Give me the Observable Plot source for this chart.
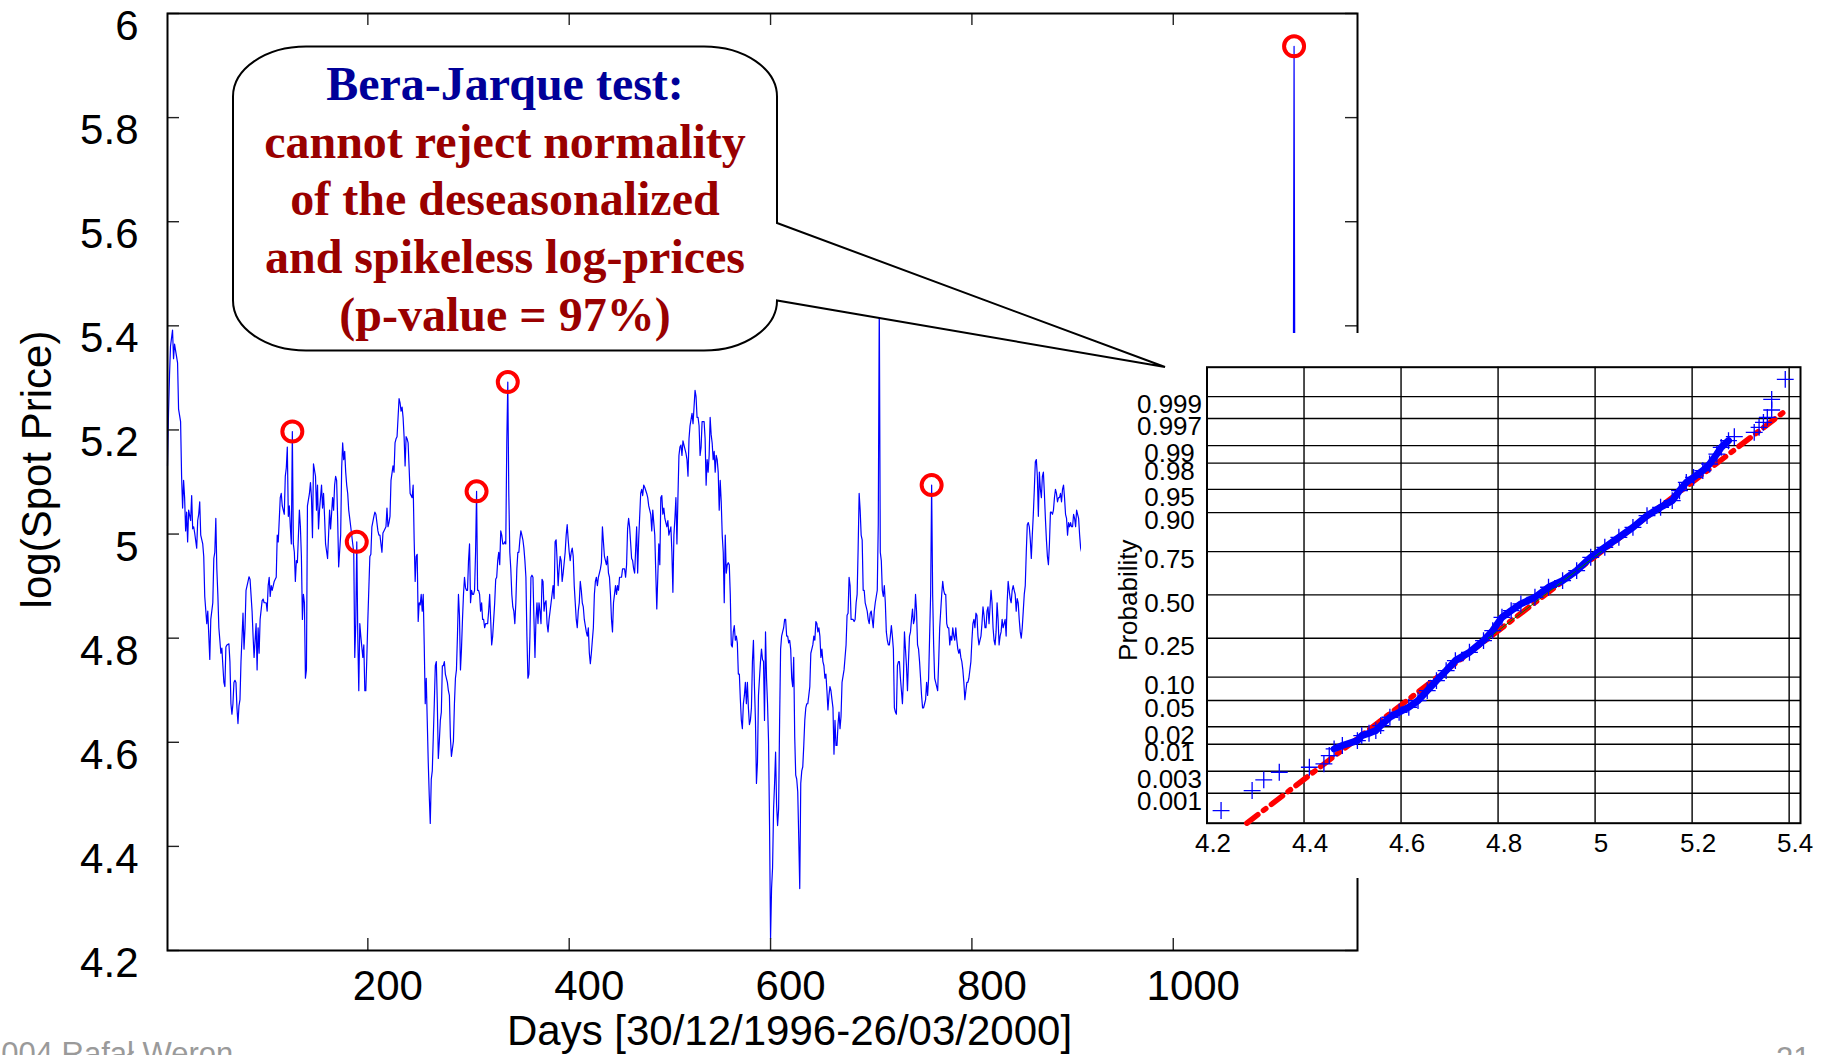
<!DOCTYPE html>
<html><head><meta charset="utf-8">
<script src="https://cdn.jsdelivr.net/npm/d3@7"></script>
<script src="https://cdn.jsdelivr.net/npm/@observablehq/plot@0.6"></script>
<style>
html,body{margin:0;padding:0;background:#fff;overflow:hidden;}
#page{position:relative;width:1832px;height:1055px;overflow:hidden;background:#fff;}
#page > *{position:absolute;}
</style></head><body><div id="page"></div>
<script>
// ---------- main series: day index and log(spot price) ----------
const days = [1,2,3,4,6,7,8,9,11,12,14,15,16,17,18,19,20,21,22,24,25,26,27,28,30,31,32,33,34,36,37,38,40,41,43,44,46,47,48,49,50,51,52,53,54,55,56,57,58,59,60,62,63,64,65,66,67,68,69,70,71,72,73,74,76,77,78,79,81,82,83,85,86,87,89,90,91,92,93,95,96,97,99,100,101,102,103,104,105,107,108,109,110,111,113,114,115,117,118,119,120,121,122,123,124,125,126,127,128,129,130,132,133,134,135,136,137,138,139,140,142,143,144,145,146,148,149,150,151,152,154,155,156,157,158,160,161,162,163,165,166,167,168,169,170,171,173,174,175,176,177,178,179,180,181,182,183,185,186,187,188,189,190,191,192,193,195,196,197,198,199,200,202,203,204,206,207,208,210,211,212,214,215,216,218,219,220,221,222,223,225,226,227,228,229,231,232,
233,234,235,236,237,238,239,240,241,242,244,245,246,247,248,249,250,251,252,253,254,255,256,257,258,259,260,261,262,263,264,265,266,267,268,269,270,271,272,273,274,275,276,277,279,280,281,282,283,285,286,287,288,289,290,291,292,293,294,295,296,297,298,299,300,301,302,303,304,305,306,307,308,309,310,311,312,313,314,315,316,317,318,319,320,321,322,323,324,325,326,327,328,329,330,331,332,333,334,335,336,337,338,339,340,341,342,343,344,345,346,347,348,349,350,351,352,353,354,355,356,357,358,359,360,361,362,363,364,365,366,367,368,369,370,371,372,373,374,375,376,377,378,379,380,381,382,383,384,385,386,387,388,389,390,391,392,393,394,395,396,397,398,399,400,401,402,403,404,405,406,407,408,409,410,411,412,413,414,415,416,417,418,419,420,421,422,423,424,425,426,427,428,429,430,431,432,433,434,435,436,437,438,439,440,441,442,443,444,445,446,447,448,449,450,451,452,453,454,455,456,457,458,459,460,462,
463,464,465,467,468,469,471,472,473,474,475,477,478,479,481,482,483,485,486,487,489,490,491,492,493,494,495,497,498,499,501,502,503,504,505,506,507,508,509,510,511,512,513,514,516,517,518,519,520,522,523,524,525,526,527,528,529,530,531,532,534,535,536,537,538,539,540,541,542,543,544,545,546,547,548,549,550,551,552,553,554,555,556,557,558,559,560,561,562,563,564,565,566,567,568,569,570,571,572,573,574,575,576,577,578,579,580,581,582,583,584,585,586,587,588,589,590,591,592,593,594,595,596,597,598,599,600,601,602,603,604,605,606,607,608,609,610,611,612,613,614,615,616,617,618,619,620,621,622,623,624,625,626,627,628,629,630,631,632,633,634,635,636,637,638,639,640,641,642,643,644,645,646,647,648,649,650,651,652,653,654,655,656,657,658,659,660,661,662,663,664,665,666,667,668,669,670,671,672,673,674,675,676,677,678,679,680,681,682,683,684,685,686,687,688,689,
690,691,692,693,694,695,696,697,698,699,700,701,702,703,704,705,706,707,708,709,710,711,712,713,714,715,716,717,718,719,720,721,722,723,724,725,726,727,728,729,730,731,732,733,734,735,736,737,738,739,740,741,742,743,744,745,746,747,748,749,750,751,752,753,754,755,756,757,758,759,760,761,762,763,764,765,766,767,768,769,770,771,772,773,774,775,776,777,778,779,780,781,782,783,784,785,786,787,788,789,790,791,792,793,794,795,796,797,798,799,800,801,802,803,804,805,806,807,808,809,810,811,812,813,814,815,816,817,818,819,820,821,822,823,824,825,826,827,828,829,830,831,832,833,834,835,836,837,838,839,840,841,842,843,844,845,846,847,848,849,850,851,852,853,854,855,856,857,858,859,860,861,862,863,864,865,866,867,868,869,870,871,872,873,874,875,876,877,878,879,880,881,882,883,884,885,886,887,888,889,890,891,892,893,894,895,896,897,898,899,900,901,902,903,904,905,906,907,908,909,910,
1119,1120,1121];
const logPrice = [5.131,5.232,5.305,5.361,5.392,5.337,5.365,5.353,5.329,5.240,5.216,5.111,5.050,5.103,5.070,5.006,5.042,4.985,5.046,5.026,5.074,5.010,5.014,5.002,4.973,5.026,5.038,5.062,4.998,4.981,4.957,4.880,4.828,4.852,4.759,4.836,4.868,4.953,4.965,5.030,4.933,4.884,4.820,4.796,4.771,4.781,4.747,4.715,4.707,4.783,4.787,4.789,4.755,4.674,4.654,4.674,4.715,4.719,4.715,4.666,4.636,4.670,4.682,4.755,4.848,4.779,4.820,4.892,4.909,4.918,4.913,4.852,4.804,4.763,4.828,4.739,4.820,4.771,4.836,4.872,4.875,4.868,4.868,4.852,4.901,4.917,4.880,4.901,4.892,4.909,4.913,4.917,4.998,4.985,5.070,5.078,5.054,5.038,5.111,5.127,5.167,5.034,5.054,5.014,4.981,5.197,4.981,4.965,4.909,4.949,4.945,5.046,5.014,4.957,4.836,4.884,4.868,4.723,4.739,5.054,5.078,5.099,5.070,4.993,5.135,5.111,5.046,5.094,5.010,5.046,5.094,5.050,5.078,5.034,4.981,4.953,4.998,5.046,5.010,5.070,5.046,5.094,5.111,5.103,5.030,4.937,4.998,5.127,5.175,5.143,5.159,5.119,5.094,5.078,5.046,5.030,5.014,4.981,4.965,4.763,4.828,4.985,4.804,4.699,4.828,4.804,4.763,4.787,4.699,4.699,4.763,4.836,4.957,4.961,5.014,5.034,5.042,5.038,5.006,4.998,4.998,4.965,5.002,5.006,5.014,5.050,5.014,5.022,5.034,5.103,5.131,5.119,5.175,5.183,5.187,5.260,5.252,
5.236,5.244,5.224,5.187,5.131,5.187,5.183,5.175,5.127,5.078,5.070,5.094,4.989,4.909,4.957,4.961,4.832,4.868,4.864,4.884,4.852,4.884,4.787,4.674,4.723,4.642,4.561,4.497,4.444,4.529,4.545,4.610,4.674,4.747,4.755,4.674,4.569,4.602,4.642,4.658,4.747,4.747,4.755,4.731,4.715,4.699,4.690,4.610,4.573,4.602,4.674,4.723,4.739,4.804,4.884,4.844,4.739,4.779,4.836,4.884,4.917,4.897,4.892,4.892,4.949,4.981,4.868,4.892,4.884,4.884,4.892,4.965,5.082,4.892,4.892,4.884,4.852,4.868,4.836,4.836,4.820,4.828,4.828,4.828,4.852,4.884,4.836,4.787,4.804,4.836,4.868,4.913,4.917,4.949,4.965,4.941,5.006,4.998,4.981,4.981,4.985,4.981,5.175,5.292,5.078,4.965,4.933,4.884,4.860,4.852,4.828,4.868,4.933,4.965,4.965,4.989,5.006,4.998,4.989,4.973,4.949,4.917,4.804,4.723,4.731,4.804,4.917,4.921,4.917,4.836,4.763,4.836,4.868,4.828,4.868,4.852,4.828,4.913,4.909,4.852,4.868,4.872,4.828,4.812,4.836,4.852,4.868,4.884,4.901,4.876,4.985,4.989,4.949,4.901,4.933,4.957,4.949,4.909,4.925,4.945,4.965,4.998,5.018,4.989,4.965,4.949,4.965,4.973,4.957,4.901,4.868,4.836,4.820,4.852,4.868,4.909,4.892,4.868,4.860,4.836,4.824,4.812,4.804,4.820,4.771,4.751,4.771,4.796,4.820,4.884,4.909,4.917,4.901,4.917,4.925,4.933,4.945,5.014,4.985,4.957,4.949,4.941,4.957,4.925,4.917,4.884,4.836,4.812,4.868,4.884,4.901,4.884,4.901,4.892,4.917,4.917,4.917,4.933,4.933,4.933,4.917,4.941,5.010,5.030,5.014,4.953,
4.949,4.933,4.925,5.014,4.925,4.989,5.078,5.086,5.074,5.094,5.090,5.078,5.070,5.054,5.038,5.006,5.046,4.998,4.925,4.856,4.981,4.941,5.070,5.074,5.038,5.050,5.030,5.014,5.026,4.998,5.014,4.965,4.888,4.998,5.030,5.070,4.981,5.070,5.151,5.167,5.171,5.151,5.179,5.171,5.155,5.143,5.111,5.183,5.208,5.232,5.212,5.244,5.276,5.264,5.224,5.224,5.208,5.151,5.167,5.216,5.216,5.183,5.094,5.143,5.119,5.151,5.224,5.191,5.175,5.143,5.159,5.119,5.151,5.143,5.119,5.046,5.103,5.062,4.998,4.965,4.868,4.998,4.925,4.941,4.945,4.941,4.884,4.787,4.783,4.812,4.824,4.796,4.804,4.791,4.731,4.731,4.682,4.642,4.626,4.674,4.690,4.715,4.674,4.715,4.666,4.634,4.642,4.666,4.755,4.796,4.707,4.642,4.521,4.561,4.690,4.723,4.755,4.779,4.759,4.755,4.642,4.812,4.723,4.674,4.602,4.440,4.222,4.319,4.359,4.472,4.521,4.581,4.480,4.440,4.472,4.642,4.779,4.804,4.812,4.820,4.836,4.836,4.804,4.804,4.791,4.796,4.779,4.723,4.707,4.763,4.610,4.537,4.529,4.505,4.416,4.319,4.521,4.545,4.553,4.594,4.642,4.666,4.674,4.674,4.690,4.707,4.771,4.779,4.787,4.804,4.796,4.832,4.828,4.812,4.820,4.804,4.763,4.779,4.755,4.747,4.723,4.731,4.699,4.662,4.690,4.707,4.699,4.682,4.666,4.577,4.642,4.594,4.594,4.634,4.658,4.626,4.650,4.715,4.727,4.739,4.763,4.787,4.844,4.848,4.917,4.901,4.836,4.836,4.836,4.832,4.836,4.868,4.884,4.973,5.078,5.046,
4.998,4.989,4.892,4.892,4.868,4.860,4.852,4.836,4.828,4.848,4.852,4.836,4.820,4.852,4.868,4.880,4.892,5.020,5.450,4.965,4.949,4.892,4.880,4.901,4.868,4.812,4.796,4.787,4.787,4.804,4.824,4.804,4.779,4.666,4.658,4.654,4.747,4.755,4.755,4.723,4.699,4.674,4.723,4.812,4.779,4.747,4.699,4.755,4.804,4.812,4.836,4.856,4.828,4.836,4.884,4.852,4.787,4.779,4.755,4.723,4.690,4.666,4.666,4.674,4.682,4.715,4.690,4.723,4.804,4.884,5.094,4.884,4.787,4.723,4.715,4.707,4.699,4.755,4.820,4.852,4.884,4.909,4.892,4.884,4.884,4.828,4.820,4.820,4.787,4.804,4.796,4.820,4.804,4.796,4.820,4.796,4.779,4.771,4.779,4.763,4.755,4.739,4.715,4.682,4.699,4.715,4.715,4.723,4.739,4.755,4.796,4.828,4.836,4.820,4.848,4.844,4.804,4.787,4.796,4.804,4.828,4.860,4.844,4.820,4.820,4.852,4.860,4.828,4.860,4.892,4.868,4.820,4.796,4.787,4.812,4.868,4.836,4.787,4.804,4.812,4.836,4.820,4.828,4.836,4.804,4.868,4.909,4.892,4.876,4.868,4.892,4.901,4.892,4.884,4.852,4.876,4.868,4.836,4.812,4.800,4.820,4.852,4.884,4.901,4.965,5.018,5.022,5.014,4.989,4.953,4.998,5.038,5.086,5.139,5.143,5.111,5.034,5.119,5.086,5.070,5.111,5.119,5.078,5.030,4.989,4.957,4.941,4.981,5.042,5.042,5.038,5.046,5.070,5.086,5.078,5.062,5.070,5.070,5.078,5.062,5.086,5.094,5.070,5.038,5.030,4.998,5.022,5.014,5.022,5.014,5.014,5.038,5.030,5.014,5.046,5.038,5.030,4.998,4.973,4.965,4.949,
5.000,5.937,5.000];

// circled spikes
const spikeDays = [125, 189, 308, 339, 760, 1120];
const spikeValues = [5.197, 4.985, 5.082, 5.292, 5.094, 5.937];

const xTicks = [200, 400, 600, 800, 1000];
const yTicks = [4.2, 4.4, 4.6, 4.8, 5, 5.2, 5.4, 5.6, 5.8, 6];
const xTitle = "Days [30/12/1996-26/03/2000]";
const yTitle = "log(Spot Price)";

// ---------- inset: normal probability plot ----------
const qqValue = [4.229,4.293,4.317,4.349,4.411,4.441,4.452,4.462,4.479,4.510,4.519,4.534,4.548,4.558,4.577,4.596,4.616,4.635,4.654,4.673,4.693,4.712,4.741,4.770,4.789,4.808,4.827,4.847,4.876,4.904,4.933,4.962,4.991,5.020,5.049,5.078,5.107,5.135,5.159,5.174,5.188,5.203,5.222,5.236,5.251,5.260,5.275,5.287,5.328,5.338,5.347,5.355,5.364,5.364,5.392];
const qqScore = [-3.360,-3.048,-2.882,-2.763,-2.685,-2.633,-2.503,-2.399,-2.347,-2.270,-2.192,-2.155,-2.114,-2.036,-1.906,-1.828,-1.750,-1.647,-1.491,-1.335,-1.179,-1.024,-0.894,-0.712,-0.556,-0.349,-0.245,-0.141,-0.037,0.119,0.223,0.378,0.586,0.742,0.898,1.053,1.235,1.365,1.469,1.624,1.754,1.832,1.936,2.040,2.195,2.299,2.403,2.466,2.533,2.611,2.689,2.767,2.881,3.047,3.358];
const fitValue = [4.282, 5.390];
const fitScore = [-3.557, 2.855];
const midFitValue = [4.780, 5.013];
const midFitScore = [-0.6745, 0.6745];
const probTicks = [0.001,0.003,0.01,0.02,0.05,0.10,0.25,0.50,0.75,0.90,0.95,0.98,0.99,0.997,0.999];
const probLabels = ["0.001","0.003","0.01","0.02","0.05","0.10","0.25","0.50","0.75","0.90","0.95","0.98","0.99","0.997","0.999"];
const insetXTicks = [4.2, 4.4, 4.6, 4.8, 5, 5.2, 5.4];
const insetYTitle = "Probability";

// ---------- callout ----------
const bubbleTitle = "Bera-Jarque test:";
const bubbleLines = ["cannot reject normality", "of the deseasonalized", "and spikeless log-prices", "(p-value = 97%)"];
const footerLeft = "2004 Rafał Weron";
const footerRight = "21";

// inverse normal CDF (Acklam)
function probit(p) {
  const a=[-3.969683028665376e+01,2.209460984245205e+02,-2.759285104469687e+02,1.383577518672690e+02,-3.066479806614716e+01,2.506628277459239e+00];
  const b=[-5.447609879822406e+01,1.615858368580409e+02,-1.556989798598866e+02,6.680131188771972e+01,-1.328068155288572e+01];
  const c=[-7.784894002430293e-03,-3.223964580411365e-01,-2.400758277161838e+00,-2.549732539343734e+00,4.374664141464968e+00,2.938163982698783e+00];
  const d=[7.784695709041462e-03,3.224671290700398e-01,2.445134137142996e+00,3.754408661907416e+00];
  const pl=0.02425, ph=1-pl;
  if (p < pl) { const q=Math.sqrt(-2*Math.log(p)); return (((((c[0]*q+c[1])*q+c[2])*q+c[3])*q+c[4])*q+c[5])/((((d[0]*q+d[1])*q+d[2])*q+d[3])*q+1); }
  if (p <= ph) { const q=p-0.5, r=q*q; return (((((a[0]*r+a[1])*r+a[2])*r+a[3])*r+a[4])*r+a[5])*q/(((((b[0]*r+b[1])*r+b[2])*r+b[3])*r+b[4])*r+1); }
  const q=Math.sqrt(-2*Math.log(1-p)); return -(((((c[0]*q+c[1])*q+c[2])*q+c[3])*q+c[4])*q+c[5])/((((d[0]*q+d[1])*q+d[2])*q+d[3])*q+1);
}

const FONT = '"Liberation Sans", Arial, Helvetica, sans-serif';
const fmt = d => String(d);
const page = document.getElementById("page");

const series = days.map((d, i) => ({day: d, v: logPrice[i]}));
const spikes = spikeDays.map((d, i) => ({day: d, v: spikeValues[i]}));

const main = Plot.plot({
  width: 1832, height: 1055,
  marginTop: 13, marginRight: 475, marginBottom: 105, marginLeft: 167,
  style: {fontFamily: FONT, background: "transparent", color: "#000", overflow: "visible"},
  x: {domain: [1, 1183]},
  y: {domain: [4.2, 6]},
  marks: [
    Plot.line(series, {x: "day", y: "v", stroke: "#0000ff", strokeWidth: 1.2}),
    Plot.dot(spikes, {x: "day", y: "v", r: 10, stroke: "#ff0000", strokeWidth: 4, fill: "none"}),
    Plot.ruleX(xTicks, {x: d => d, insetTop: 925, stroke: "#222", strokeWidth: 1.4}),
    Plot.ruleX(xTicks, {x: d => d, insetBottom: 925, stroke: "#222", strokeWidth: 1.4}),
    Plot.ruleY(yTicks, {y: d => d, insetRight: 1178, stroke: "#222", strokeWidth: 1.4}),
    Plot.ruleY(yTicks, {y: d => d, insetLeft: 1178, stroke: "#222", strokeWidth: 1.4}),
    Plot.frame({stroke: "#000", strokeWidth: 2}),
    Plot.axisX(xTicks, {tickSize: 0, tickPadding: 20, dx: 20, fontSize: 42, label: null, tickFormat: fmt}),
    Plot.axisY(yTicks, {tickSize: 0, tickPadding: 29, dy: 13, fontSize: 42, label: null, tickFormat: fmt}),
    Plot.text([xTitle], {text: d => d, frameAnchor: "bottom", textAnchor: "middle", lineAnchor: "middle", dx: 27, dy: 81, fontSize: 42}),
    Plot.text([yTitle], {text: d => d, frameAnchor: "left", textAnchor: "middle", lineAnchor: "middle", rotate: -90, dx: -130, dy: -12.5, fontSize: 42})
  ]
});
main.style.left = "0px"; main.style.top = "0px";
page.appendChild(main);

const qq = qqValue.map((v, i) => ({v, z: qqScore[i]}));
const fit = fitValue.map((v, i) => ({v, z: fitScore[i]}));
const midFit = midFitValue.map((v, i) => ({v, z: midFitScore[i]}));

const inset = Plot.plot({
  width: 751, height: 545,
  marginTop: 33.7, marginRight: 32, marginBottom: 55.3, marginLeft: 125.5,
  style: {fontFamily: FONT, background: "#fff", color: "#000", overflow: "visible"},
  x: {domain: [4.2, 5.4234]},
  y: {domain: [-3.557, 3.548], axis: null},
  marks: [
    Plot.ruleX(insetXTicks.slice(1), {x: d => d, stroke: "#000", strokeWidth: 1.4}),
    Plot.ruleY(probTicks, {y: p => probit(p), stroke: "#000", strokeWidth: 1.4}),
    Plot.frame({stroke: "#000", strokeWidth: 2}),
    Plot.line(fit, {x: "v", y: "z", stroke: "#ff0000", strokeWidth: 5.5, strokeDasharray: "14,7,3,7"}),
    Plot.line(qq.filter(d => d.z > -2.4 && d.z < 2.45), {x: "v", y: "z", stroke: "#0000ff", strokeWidth: 7}),
    Plot.line(midFit, {x: "v", y: "z", stroke: "#008000", strokeWidth: 1}),
    Plot.dot(qq, {x: "v", y: "z", symbol: "plus", r: 5.5, stroke: "#0000ff", strokeWidth: 1.3}),
    Plot.axisX(insetXTicks, {tickSize: 0, tickPadding: 10, dx: 6, fontSize: 26, label: null, tickFormat: fmt}),
    Plot.text(probTicks, {y: p => probit(p), text: (p, i) => probLabels[i], frameAnchor: "left", textAnchor: "middle", dx: -37.5, dy: 8.5, fontSize: 26}),
    Plot.text([insetYTitle], {text: d => d, frameAnchor: "left", textAnchor: "middle", lineAnchor: "middle", rotate: -90, dx: -78.5, dy: 5, fontSize: 26})
  ]
});
inset.style.left = "1081px"; inset.style.top = "333px";
page.appendChild(inset);

// callout bubble and slide footer
const L = 233, R = 777, T = 46.5, B = 350.5, rx = 73, ry = 50;
const over = d3.create("svg").attr("width", 1832).attr("height", 1055)
  .style("left", "0px").style("top", "0px").style("pointer-events", "none");
over.append("path")
  .attr("d", `M${L+rx},${T} H${R-rx} A${rx},${ry} 0 0 1 ${R},${T+ry} V223 L1165,367 L${R},${B-ry} A${rx},${ry} 0 0 1 ${R-rx},${B} H${L+rx} A${rx},${ry} 0 0 1 ${L},${B-ry} V${T+ry} A${rx},${ry} 0 0 1 ${L+rx},${T} Z`)
  .attr("fill", "#fff").attr("stroke", "#000").attr("stroke-width", 2);
const tg = over.append("g").attr("font-family", '"Liberation Serif", "Times New Roman", serif')
  .attr("font-weight", "bold").attr("font-size", 48).attr("text-anchor", "middle");
tg.append("text").attr("x", 505).attr("y", 100).attr("fill", "#000099").text(bubbleTitle);
const baselines = [157.5, 215, 273, 331];
bubbleLines.forEach((s, i) => tg.append("text").attr("x", 505).attr("y", baselines[i]).attr("fill", "#990000").text(s));
over.append("text").attr("x", -16).attr("y", 1064).attr("font-family", FONT).attr("font-size", 31).attr("fill", "#9a9a9a").text(footerLeft);
over.append("text").attr("x", 1776).attr("y", 1069).attr("font-family", FONT).attr("font-size", 31).attr("fill", "#9a9a9a").text(footerRight);
page.appendChild(over.node());
</script>
</body></html>
